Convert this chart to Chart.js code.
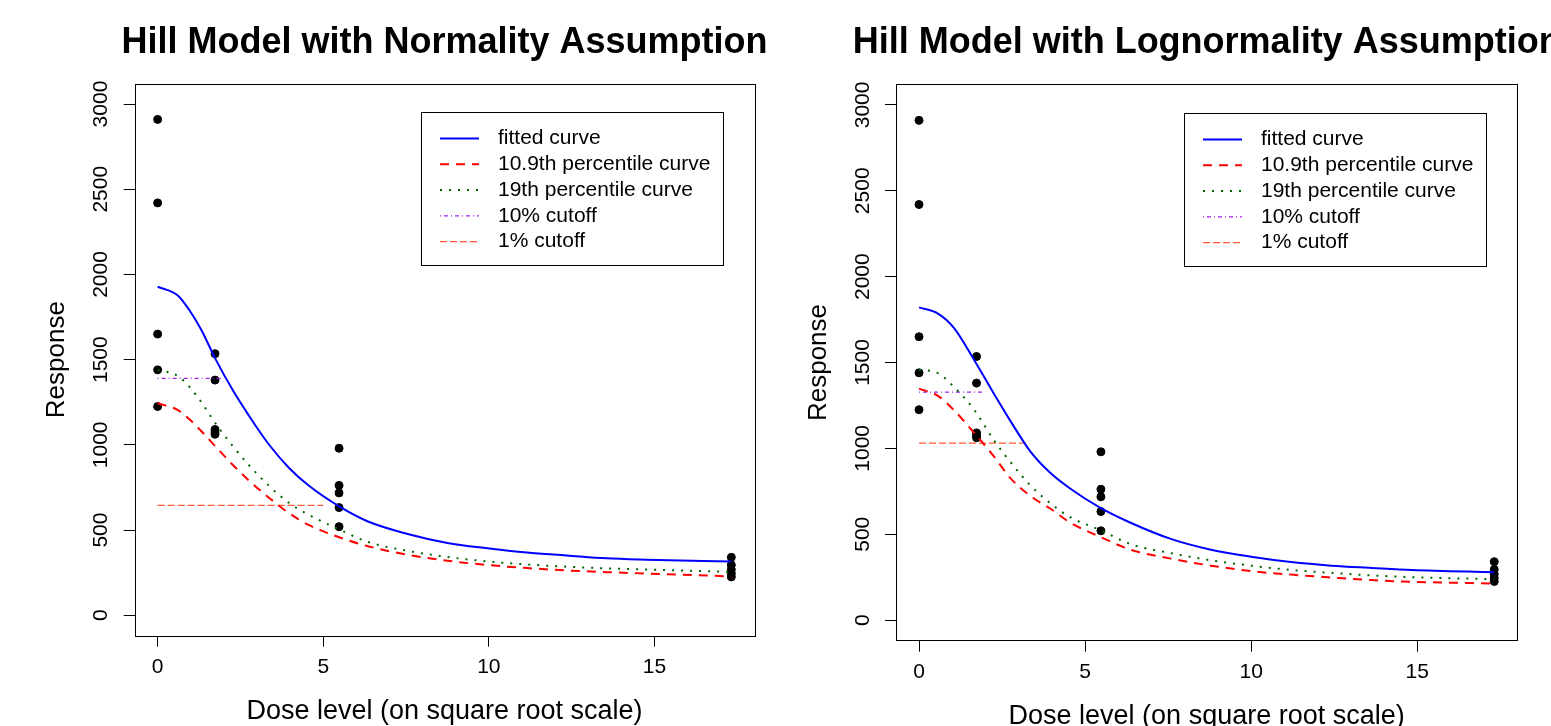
<!DOCTYPE html>
<html>
<head>
<meta charset="utf-8">
<script src="https://cdn.jsdelivr.net/npm/chart.js@4.4.1/dist/chart.umd.min.js"></script>
<style>
  body { margin: 0; background: #fff; width: 1551px; height: 726px; overflow: hidden; position: relative; }
  canvas { position: absolute; top: 0; }
  #normal { left: 0; }
  #lognormal { left: 775px; }
</style>
</head>
<body>
<canvas id="normal" width="775" height="726"></canvas>
<canvas id="lognormal" width="776" height="726"></canvas>
<script>
// observed responses (x = square root of dose)
const obsDose = [0, 0, 0, 0, 0, 1.732, 1.732, 1.732, 1.732, 1.732, 5.477, 5.477, 5.477, 5.477, 5.477, 17.32, 17.32, 17.32, 17.32, 17.32];
const obsResp = [2910, 2420, 1650, 1440, 1225, 1535, 1380, 1090, 1075, 1062, 980, 762, 718, 632, 520, 340, 295, 268, 245, 225];

// normality model curves
const normDose = [0, 0.6, 0.96, 1.32, 1.74, 2.28, 2.76, 3.36, 3.96, 4.56, 5.52, 6.35, 7.55, 8.75, 9.95, 11.15, 12.35, 13.55, 14.75, 17.32];
const normFit = [1928, 1878, 1790, 1674, 1506, 1317, 1170, 1002, 866, 761, 634, 550, 477, 424, 393, 368, 351, 334, 326, 315];
const normP109 = [1244, 1205, 1150, 1080, 992, 880, 790, 690, 600, 530, 455, 405, 355, 320, 295, 277, 263, 253, 245, 228];
const normP19 = [1440, 1405, 1340, 1250, 1128, 990, 880, 760, 660, 590, 500, 430, 378, 342, 316, 298, 285, 275, 268, 255];
const normCut10 = { x: [0, 1.95], y: 1390 };
const normCut1 = { x: [0, 5.0], y: 645 };

// lognormality model curves
const lognDose = [0, 0.57, 1.05, 1.66, 2.26, 2.75, 3.35, 3.95, 4.56, 5.45, 6.37, 7.58, 8.79, 10.0, 11.2, 12.42, 13.63, 14.84, 17.32];
const lognFit = [1821, 1785, 1702, 1515, 1317, 1160, 983, 858, 765, 655, 567, 473, 410, 369, 338, 317, 304, 292, 279];
const lognP109 = [1348, 1306, 1223, 1090, 952, 827, 723, 650, 567, 485, 410, 358, 317, 285, 265, 248, 233, 223, 213];
const lognP19 = [1458, 1438, 1358, 1225, 1046, 921, 785, 681, 598, 525, 442, 390, 348, 317, 292, 275, 260, 250, 238];
const lognCut10 = { x: [0, 1.92], y: 1327 };
const lognCut1 = { x: [0, 3.29], y: 1031 };

const xTicks = [0, 5, 10, 15];
const yTicks = [0, 500, 1000, 1500, 2000, 2500, 3000];
const legendLabels = ["fitted curve", "10.9th percentile curve", "19th percentile curve", "10% cutoff", "1% cutoff"];

const FONT = "'Liberation Sans', Arial, sans-serif";
const styles = [
  { color: "#0000ff", width: 2, dash: [] },
  { color: "#ff0000", width: 2, dash: [9, 7] },
  { color: "#006400", width: 2, dash: [2, 7] },
  { color: "#a020f0", width: 1.3, dash: [1, 3, 4, 3] },
  { color: "#ff5a36", width: 1.3, dash: [7, 3] },
];

function pts(xs, ys) {
  return xs.map((x, i) => ({ x: x, y: ys[i] }));
}

const rPanel = {
  id: "rPanel",
  afterDraw(chart) {
    const o = chart.options.plugins.rPanel;
    const ctx = chart.ctx;
    const ca = chart.chartArea;
    const ys = chart.scales.y;
    ctx.save();
    // box
    ctx.strokeStyle = "#000";
    ctx.lineWidth = 1;
    ctx.setLineDash([]);
    ctx.strokeRect(Math.round(ca.left) + 0.5, Math.round(ca.top) + 0.5, Math.round(ca.right - ca.left), Math.round(ca.bottom - ca.top));
    ctx.fillStyle = "#000";
    // title
    ctx.font = "bold 36px " + FONT;
    ctx.textAlign = "center";
    ctx.textBaseline = "middle";
    ctx.fillText(o.title, (ca.left + ca.right) / 2, ca.top - 41);
    // x title
    ctx.font = "27px " + FONT;
    ctx.fillText("Dose level (on square root scale)", (ca.left + ca.right) / 2, ca.bottom + 76);
    // y title
    ctx.font = "26px " + FONT;
    ctx.save();
    ctx.translate(ca.left - 77.5, (ca.top + ca.bottom) / 2);
    ctx.rotate(-Math.PI / 2);
    ctx.fillText("Response", 0, 0);
    ctx.restore();
    // y tick labels (rotated like R's default)
    ctx.font = "21px " + FONT;
    ys.ticks.forEach((t) => {
      ctx.save();
      ctx.translate(ca.left - 33, ys.getPixelForValue(t.value));
      ctx.rotate(-Math.PI / 2);
      ctx.fillText(String(t.value), 0, 0);
      ctx.restore();
    });
    // legend
    const bx = ca.left + o.legendDx, by = ca.top + o.legendDy;
    ctx.strokeStyle = "#000";
    ctx.lineWidth = 1;
    ctx.strokeRect(Math.round(bx) + 0.5, Math.round(by) + 0.5, 302, 153);
    ctx.font = "21px " + FONT;
    ctx.textAlign = "left";
    legendLabels.forEach((lab, i) => {
      const ry = by + 26.5 + i * 25.8;
      const s = styles[i];
      ctx.beginPath();
      ctx.strokeStyle = s.color;
      ctx.lineWidth = s.width;
      ctx.setLineDash(s.dash);
      ctx.moveTo(bx + 19, ry);
      ctx.lineTo(bx + 58, ry);
      ctx.stroke();
      ctx.setLineDash([]);
      ctx.fillStyle = "#000";
      ctx.fillText(lab, bx + 77, ry);
    });
    ctx.restore();
  },
};

function lineSet(label, data, s, order) {
  return {
    label: label,
    data: data,
    showLine: true,
    borderColor: s.color,
    borderWidth: s.width,
    borderDash: s.dash,
    pointRadius: 0,
    cubicInterpolationMode: "monotone",
    fill: false,
    order: order,
  };
}

function makePanel(id, cfg) {
  const ctx = document.getElementById(id);
  const canvasW = ctx.width;
  return new Chart(ctx, {
    type: "scatter",
    data: {
      datasets: [
        lineSet(legendLabels[0], pts(cfg.dose, cfg.fit), styles[0], 1),
        lineSet(legendLabels[1], pts(cfg.dose, cfg.p109), styles[1], 2),
        lineSet(legendLabels[2], pts(cfg.dose, cfg.p19), styles[2], 3),
        lineSet(legendLabels[3], pts(cfg.cut10.x, [cfg.cut10.y, cfg.cut10.y]), styles[3], 4),
        lineSet(legendLabels[4], pts(cfg.cut1.x, [cfg.cut1.y, cfg.cut1.y]), styles[4], 5),
        {
          label: "observed",
          data: pts(obsDose, obsResp),
          backgroundColor: "#000",
          borderColor: "#000",
          pointRadius: 4,
          order: 10,
        },
      ],
    },
    options: {
      responsive: false,
      animation: false,
      layout: { padding: { left: 0, top: cfg.area.top, right: canvasW - cfg.area.right, bottom: 0 } },
      plugins: {
        legend: { display: false },
        tooltip: { enabled: false },
        rPanel: { title: cfg.title, legendDx: cfg.legendDx, legendDy: cfg.legendDy },
      },
      scales: {
        x: {
          type: "linear",
          min: -0.693,
          max: 18.014,
          afterFit: (s) => { s.height = 726 - cfg.area.bottom; },
          afterBuildTicks: (s) => { s.ticks = xTicks.map((v) => ({ value: v })); },
          grid: { drawOnChartArea: false, tickLength: 11, color: "#000", tickColor: "#000" },
          border: { display: false },
          ticks: { color: "#000", font: { family: FONT, size: 21 }, padding: 8, maxRotation: 0 },
        },
        y: {
          type: "linear",
          min: -120,
          max: 3120,
          afterFit: (s) => { s.width = cfg.area.left; },
          afterBuildTicks: (s) => { s.ticks = yTicks.map((v) => ({ value: v })); },
          grid: { drawOnChartArea: false, tickLength: 11, color: "#000", tickColor: "#000" },
          border: { display: false },
          ticks: { color: "rgba(0,0,0,0)", font: { family: FONT, size: 21 } },
        },
      },
    },
    plugins: [rPanel],
  });
}

makePanel("normal", {
  title: "Hill Model with Normality Assumption",
  area: { left: 134.7, top: 83.6, right: 754.3, bottom: 635.7 },
  legendDx: 286.3,
  legendDy: 28.4,
  dose: normDose, fit: normFit, p109: normP109, p19: normP19, cut10: normCut10, cut1: normCut1,
});

makePanel("lognormal", {
  title: "Hill Model with Lognormality Assumption",
  area: { left: 121, top: 84.3, right: 742.3, bottom: 640.7 },
  legendDx: 288,
  legendDy: 28.7,
  dose: lognDose, fit: lognFit, p109: lognP109, p19: lognP19, cut10: lognCut10, cut1: lognCut1,
});
</script>
</body>
</html>
